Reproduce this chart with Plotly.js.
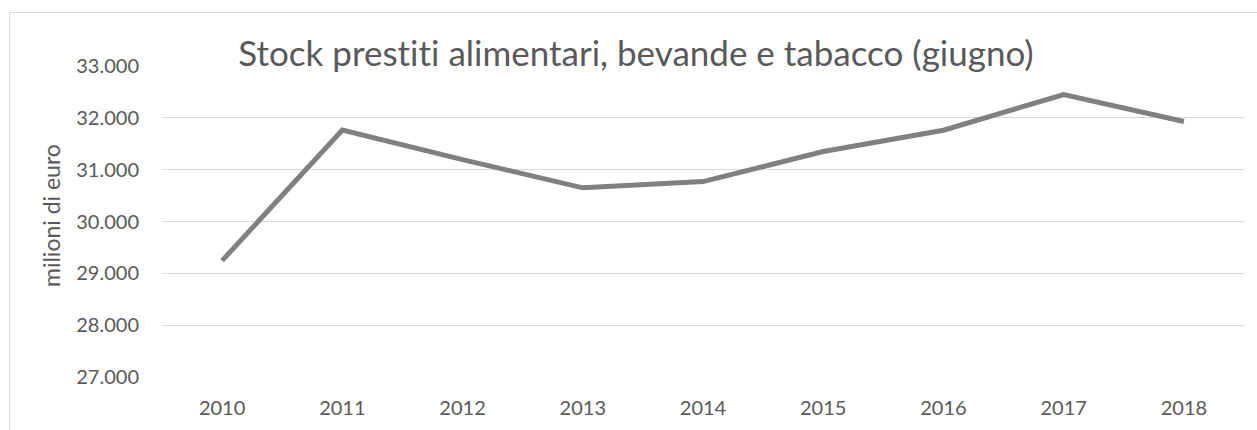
<!DOCTYPE html>
<html>
<head>
<meta charset="utf-8">
<script src="https://cdn.plot.ly/plotly-3.0.1.min.js"></script>
<style>
html,body{margin:0;padding:0;background:#fff;}
#chart{width:1257px;height:430px;}
#chart text{font-variant-ligatures:none;font-feature-settings:"liga" 0, "clig" 0;}
</style>
</head>
<body>
<div id="chart"></div>
<script>
const years = ["2010","2011","2012","2013","2014","2015","2016","2017","2018"];
const stock = [29245, 31763, 31195, 30650, 30770, 31350, 31760, 32450, 31930];
const yTickVals = [27000, 28000, 29000, 30000, 31000, 32000, 33000];
const yTickText = ["27.000","28.000","29.000","30.000","31.000","32.000","33.000"];
const chartTitle = "Stock prestiti alimentari, bevande e tabacco (giugno)";
const yTitle = "milioni di euro";

const L = 162, R = 13, T = 66, B = 53;
const W = 1257, H = 430;
const pw = W - L - R, ph = H - T - B;
const px = v => (v - L) / pw;
const py = v => (H - B - v) / ph;

const font = "Lato, 'Open Sans', sans-serif";
const trace = {
  x: years, y: stock, type: "scatter", mode: "lines",
  line: {color: "#808080", width: 5},
  hoverinfo: "skip"
};
const layout = {
  width: W, height: H,
  margin: {l: L, r: R, t: T, b: B, pad: 0},
  paper_bgcolor: "#fff", plot_bgcolor: "#fff",
  showlegend: false,
  font: {family: font, color: "#595959", size: 20},
  title: {text: chartTitle, font: {family: font, size: 35, color: "#595959"},
          xref: "container", yref: "container", x: 636/W, xanchor: "center",
          y: 1 - 54/H, yanchor: "middle"},
  xaxis: {type: "category", range: [-0.5, years.length - 0.5],
          showgrid: false, zeroline: false, showline: false,
          ticks: "", tickfont: {family: font, size: 20, color: "#595959"},
          ticklabelstandoff: 17, fixedrange: true},
  yaxis: {range: [27000, 33000], tickvals: yTickVals, ticktext: yTickText,
          showgrid: true, gridcolor: "#d9d9d9", gridwidth: 1, zeroline: false,
          showline: false, ticks: "", tickfont: {family: font, size: 20, color: "#595959"},
          ticklabelstandoff: 22, fixedrange: true},
  annotations: [{text: yTitle, xref: "paper", yref: "paper", x: px(51), y: py(216),
                 xanchor: "center", yanchor: "middle", textangle: -90, showarrow: false,
                 font: {family: font, size: 23, color: "#595959"}}],
  shapes: [
    {type: "line", xref: "paper", yref: "paper", x0: px(9.5), x1: px(9.5), y0: py(12.5), y1: py(H + 5),
     line: {color: "#d9d9d9", width: 1}},
    {type: "line", xref: "paper", yref: "paper", x0: px(9.5), x1: px(W + 5), y0: py(12.5), y1: py(12.5),
     line: {color: "#d9d9d9", width: 1}}
  ]
};
Plotly.newPlot("chart", [trace], layout, {displayModeBar: false, staticPlot: true});
</script>
</body>
</html>
